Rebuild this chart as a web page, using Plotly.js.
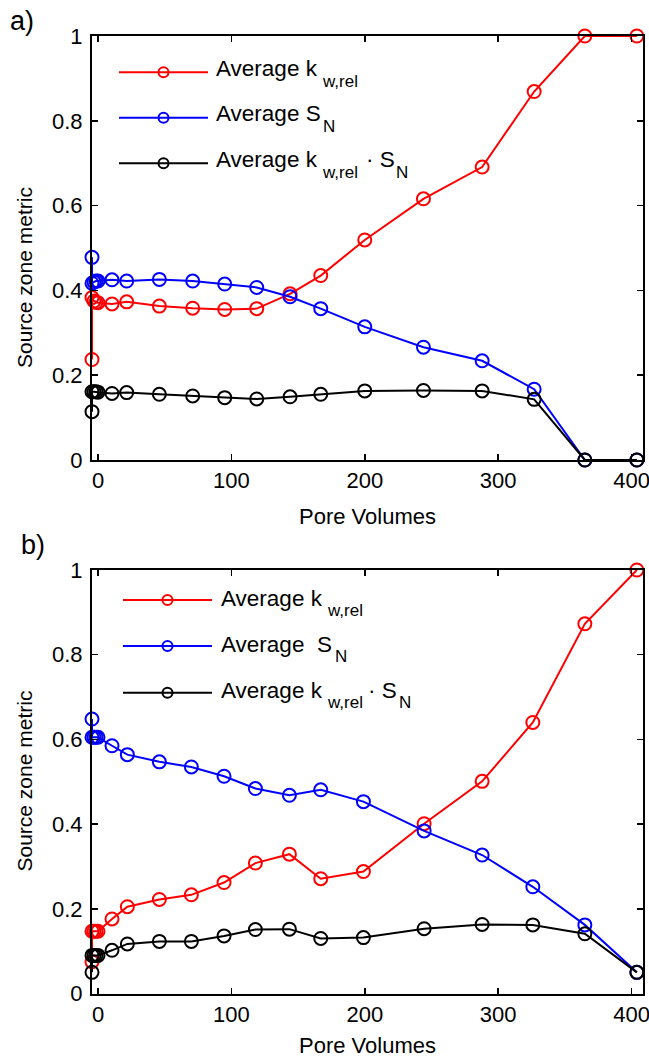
<!DOCTYPE html>
<html>
<head>
<meta charset="utf-8">
<script src="https://cdn.plot.ly/plotly-3.0.1.min.js"></script>
<style>
  html, body { margin: 0; padding: 0; background: #ffffff; }
  #chart { width: 649px; height: 1057px; }
</style>
</head>
<body>
<div id="chart"></div>
<script>
// ---- panel a: pore volumes flushed and averaged source-zone metrics ----
const poreVolumesA = [-4.5, -4.5, -3, -1.5, 0, 10.5, 21.5, 46, 71, 95, 119, 144, 167, 200, 244, 288, 327, 365, 404];
const kwRelA = [0.237, 0.383, 0.375, 0.372, 0.371, 0.368, 0.373, 0.363, 0.358, 0.355, 0.357, 0.392, 0.435, 0.519, 0.616, 0.691, 0.869, 1.0, 1.0];
const snA    = [0.478, 0.417, 0.420, 0.422, 0.422, 0.425, 0.422, 0.426, 0.422, 0.415, 0.407, 0.385, 0.357, 0.314, 0.266, 0.234, 0.167, 0.0, 0.0];
const kwSnA  = [0.114, 0.161, 0.161, 0.161, 0.160, 0.157, 0.159, 0.155, 0.151, 0.147, 0.144, 0.149, 0.155, 0.163, 0.164, 0.163, 0.143, 0.0, 0.0];

// ---- panel b ----
const poreVolumesB = [-4.5, -4.5, -3, -1.5, 0, 10.5, 22, 46, 70, 94.5, 118, 143.5, 167, 199, 244.5, 288, 326, 365, 404];
const kwRelB = [0.075, 0.147, 0.147, 0.147, 0.147, 0.176, 0.205, 0.222, 0.233, 0.262, 0.308, 0.329, 0.271, 0.288, 0.401, 0.501, 0.640, 0.873, 1.0];
const snB    = [0.648, 0.605, 0.605, 0.605, 0.605, 0.585, 0.564, 0.547, 0.535, 0.513, 0.484, 0.468, 0.481, 0.453, 0.384, 0.327, 0.252, 0.162, 0.050];
const kwSnB  = [0.050, 0.090, 0.090, 0.090, 0.090, 0.102, 0.117, 0.123, 0.123, 0.136, 0.151, 0.152, 0.130, 0.132, 0.153, 0.163, 0.162, 0.141, 0.050];

// ---- ticks, titles, legend wording ----
const xTickVals = [0, 100, 200, 300, 400];
const yTickVals = [0, 0.2, 0.4, 0.6, 0.8, 1];
const yTickText = ['0', '0.2', '0.4', '0.6', '0.8', '1'];
const xTitle = 'Pore Volumes';
const yTitle = 'Source zone metric';
const panelLabels = ['a)', 'b)'];
// each legend row: [main text, subscript, tail text, tail subscript]
const legendRowsA = [['Average k', 'w,rel', '', ''], ['Average S', 'N', '', ''], ['Average k', 'w,rel', '· S', 'N']];
const legendRowsB = [['Average k', 'w,rel', '', ''], ['Average  S', 'N', '', ''], ['Average k', 'w,rel', '· S', 'N']];
const seriesColors = ['#ff0000', '#0000ff', '#000000'];

// ---- page geometry helpers (pixel -> paper fraction) ----
const W = 649, H = 1057;
const px = v => v / W;
const py = v => 1 - v / H;
const FONT = 'Liberation Sans, Arial, Helvetica, sans-serif';

function series(x, y, color, xa, ya) {
  return {
    x: x, y: y, xaxis: xa, yaxis: ya, type: 'scatter', mode: 'lines+markers',
    line: { color: color, width: 2 },
    marker: { symbol: 'circle-open', size: 13, color: color, line: { width: 2, color: color } },
    cliponaxis: false, showlegend: false, hoverinfo: 'skip'
  };
}

const traces = [
  series(poreVolumesA, kwRelA, seriesColors[0], 'x', 'y'),
  series(poreVolumesA, snA, seriesColors[1], 'x', 'y'),
  series(poreVolumesA, kwSnA, seriesColors[2], 'x', 'y'),
  series(poreVolumesB, kwRelB, seriesColors[0], 'x2', 'y2'),
  series(poreVolumesB, snB, seriesColors[1], 'x2', 'y2'),
  series(poreVolumesB, kwSnB, seriesColors[2], 'x2', 'y2')
];

function xAxis(anchor) {
  return {
    anchor: anchor, domain: [px(92), px(643)], range: [-4.5, 408.6],
    tickvals: xTickVals, ticktext: xTickVals.map(String),
    ticks: 'inside', ticklen: 6, tickwidth: 1.5, tickcolor: '#000',
    showline: true, linecolor: '#000', linewidth: 2, mirror: 'ticks',
    showgrid: false, zeroline: false, ticklabelstandoff: 1.5, ticklabeloverflow: 'allow',
    tickfont: { family: FONT, size: 22, color: '#000' }
  };
}
function yAxis(anchor, top, bottom) {
  return {
    anchor: anchor, domain: [py(bottom), py(top)], range: [0, 1],
    tickvals: yTickVals, ticktext: yTickText,
    ticks: 'inside', ticklen: 6, tickwidth: 1.5, tickcolor: '#000',
    showline: true, linecolor: '#000', linewidth: 2, mirror: 'ticks',
    showgrid: false, zeroline: false, ticklabelstandoff: 3, ticklabeloverflow: 'allow',
    tickfont: { family: FONT, size: 22, color: '#000' }
  };
}

const shapes = [];
const annotations = [];

function text(t, x, y, size, opts) {
  annotations.push(Object.assign({
    text: t, xref: 'paper', yref: 'paper', x: px(x), y: py(y),
    xanchor: 'left', yanchor: 'middle', showarrow: false,
    font: { family: FONT, size: size, color: '#000' }, borderpad: 0
  }, opts || {}));
}

// legend block: coloured sample line with an open circle, then the label pieces
function legend(rows, rowY, lineX0, lineX1, textX, subX, tailX, tailSubX, dyMain, dySub) {
  rows.forEach((r, i) => {
    const y = rowY[i];
    const c = seriesColors[i];
    shapes.push({ type: 'line', xref: 'paper', yref: 'paper',
      x0: px(lineX0), x1: px(lineX1), y0: py(y), y1: py(y), line: { color: c, width: 2 } });
    const cx = (lineX0 + lineX1) / 2, rad = 5;
    shapes.push({ type: 'circle', xref: 'paper', yref: 'paper',
      x0: px(cx - rad), x1: px(cx + rad), y0: py(y + rad), y1: py(y - rad),
      line: { color: c, width: 2 }, fillcolor: 'rgba(0,0,0,0)' });
    text(r[0], textX, y + dyMain, 22.5);
    text(r[1], subX[i], y + dySub, 17);
    if (r[2]) {
      text(r[2], tailX, y + dyMain, 22.5);
      text(r[3], tailSubX, y + dySub, 17);
    }
  });
}

legend(legendRowsA, [72.3, 117.7, 163.3], 119, 208, 215, [321, 322, 321], 365, 395, -4, 9);
legend(legendRowsB, [600, 646, 692.7], 123, 212, 220, [326, 334, 326], 367, 398, -2, 10);

// axis titles and panel letters
text(yTitle, 24, 278, 21, { xanchor: 'center', textangle: -90 });
text(yTitle, 24, 781.5, 21, { xanchor: 'center', textangle: -90 });
text(xTitle, 367, 516, 22, { xanchor: 'center' });
text(xTitle, 367, 1045, 22, { xanchor: 'center' });
text(panelLabels[0], 22, 21, 27, { xanchor: 'center' });
text(panelLabels[1], 32.5, 545, 27, { xanchor: 'center' });

const layout = {
  width: W, height: H,
  margin: { l: 0, r: 0, t: 0, b: 0 },
  paper_bgcolor: '#ffffff', plot_bgcolor: '#ffffff',
  font: { family: FONT, color: '#000' },
  showlegend: false,
  xaxis: xAxis('y'),
  yaxis: yAxis('x', 36, 460),
  xaxis2: xAxis('y2'),
  yaxis2: yAxis('x2', 570, 993.5),
  shapes: shapes,
  annotations: annotations
};

Plotly.newPlot('chart', traces, layout, { staticPlot: true, displayModeBar: false });
</script>
</body>
</html>
